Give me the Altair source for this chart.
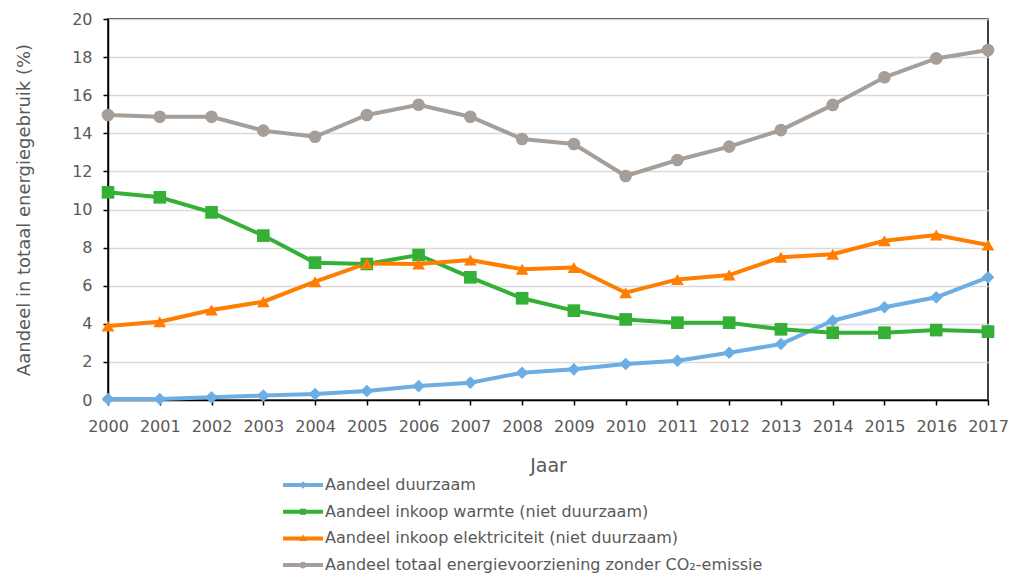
import altair as alt
import pandas as pd

years = ["2000", "2001", "2002", "2003", "2004", "2005", "2006", "2007", "2008",
         "2009", "2010", "2011", "2012", "2013", "2014", "2015", "2016", "2017"]

duurzaam = [0.05, 0.05, 0.14, 0.23, 0.31, 0.47, 0.73, 0.91, 1.43,
            1.61, 1.89, 2.06, 2.48, 2.94, 4.16, 4.87, 5.39, 6.44]
warmte = [10.9, 10.64, 9.85, 8.63, 7.21, 7.14, 7.61, 6.44, 5.34,
          4.69, 4.23, 4.06, 4.06, 3.71, 3.53, 3.53, 3.67, 3.59]
elektriciteit = [3.88, 4.11, 4.72, 5.16, 6.21, 7.17, 7.14, 7.35, 6.86,
                 6.96, 5.63, 6.33, 6.56, 7.49, 7.65, 8.36, 8.66, 8.14]
totaal = [14.96, 14.87, 14.87, 14.14, 13.82, 14.96, 15.5, 14.87, 13.7,
          13.44, 11.76, 12.6, 13.3, 14.17, 15.49, 16.94, 17.93, 18.37]

series_names = [
    "Aandeel duurzaam",
    "Aandeel inkoop warmte (niet duurzaam)",
    "Aandeel inkoop elektriciteit (niet duurzaam)",
    "Aandeel totaal energievoorziening zonder CO₂-emissie",
]
series_values = [duurzaam, warmte, elektriciteit, totaal]
colors = ["#6CAEE3", "#33B035", "#FF7D00", "#A69E98"]
marker_shapes = ["diamond", "square", "triangle-up", "circle"]

# legend glyphs: a line segment with a small marker (path units = 10 px)
bar = "M-2,-0.2H2V0.2H-2Z"
legend_shapes = [
    bar + "M0,-0.38L0.38,0L0,0.38L-0.38,0Z",
    bar + "M-0.3,-0.3H0.3V0.3H-0.3Z",
    bar + "M0,-0.42L0.38,0.26H-0.38Z",
    bar + "M-0.34,0A0.34,0.34,0,1,1,0.34,0A0.34,0.34,0,1,1,-0.34,0Z",
]

rows = []
for name, vals in zip(series_names, series_values):
    for yr, v in zip(years, vals):
        rows.append({"Jaar": yr, "Waarde": v, "Reeks": name, "Reeks2": name})
df = pd.DataFrame(rows)

FONT = "DejaVu Sans"
GREY_TXT = "#595959"

x_enc = alt.X(
    "Jaar:O",
    sort=years,
    scale=alt.Scale(type="point", padding=0),
    axis=alt.Axis(
        title="Jaar", labelAngle=0, grid=False, tickSize=5, labelPadding=13,
        titlePadding=22, titleFontSize=19, domainColor="black", tickColor="black",
        domainWidth=1.5, tickWidth=1.5,
    ),
)
y_enc = alt.Y(
    "Waarde:Q",
    scale=alt.Scale(domain=[0, 20], nice=False),
    axis=alt.Axis(
        title="Aandeel in totaal energiegebruik (%)",
        values=[0, 2, 4, 6, 8, 10, 12, 14, 16, 18, 20],
        tickSize=5, labelPadding=11, titlePadding=38, titleFontSize=18,
        domainColor="black", tickColor="black", domainWidth=1.5, tickWidth=1.5,
        gridColor="#D9D9D9", gridWidth=1.5,
    ),
)

color_scale = alt.Scale(domain=series_names, range=colors)

base = alt.Chart(df)

lines = base.mark_line(strokeWidth=4).encode(
    x=x_enc, y=y_enc,
    color=alt.Color("Reeks:N", scale=color_scale, sort=series_names, legend=None),
)

points = base.mark_point(filled=True, size=160, opacity=1).encode(
    x=x_enc, y=y_enc,
    color=alt.Color("Reeks:N", scale=color_scale, sort=series_names, legend=None),
    shape=alt.Shape("Reeks2:N", scale=alt.Scale(domain=series_names, range=marker_shapes),
                    legend=None),
)

legend_props = dict(
    title=None, orient="none", legendX=185, legendY=456, direction="vertical",
    symbolSize=400, symbolStrokeWidth=0, symbolOpacity=1,
    labelFontSize=16, labelColor=GREY_TXT, labelFont=FONT, labelOffset=12,
    rowPadding=8.7, padding=0, labelLimit=800,
)

legend_layer = base.transform_filter("false").mark_point(filled=True, opacity=1).encode(
    x=x_enc, y=y_enc,
    color=alt.Color("Reeks:N", scale=color_scale, sort=series_names,
                    legend=alt.Legend(**legend_props)),
    shape=alt.Shape("Reeks:N", sort=series_names,
                    scale=alt.Scale(domain=series_names, range=legend_shapes),
                    legend=alt.Legend(**legend_props)),
)

chart = (
    alt.layer(lines, points, legend_layer)
    .resolve_scale(color="independent", shape="independent")
    .properties(
        width=880, height=381,
        autosize=alt.AutoSizeParams(type="none"),
        padding={"left": 100, "top": 11, "right": 20, "bottom": 178},
    )
    .configure(font=FONT)
    .configure_view(stroke="black", strokeWidth=1.5)
    .configure_axis(
        labelFont=FONT, labelFontSize=16, labelColor=GREY_TXT,
        titleFont=FONT, titleFontSize=16, titleFontWeight="normal", titleColor=GREY_TXT,
    )
)

chart.save("out.html", embed_options={"renderer": "svg", "actions": False})
